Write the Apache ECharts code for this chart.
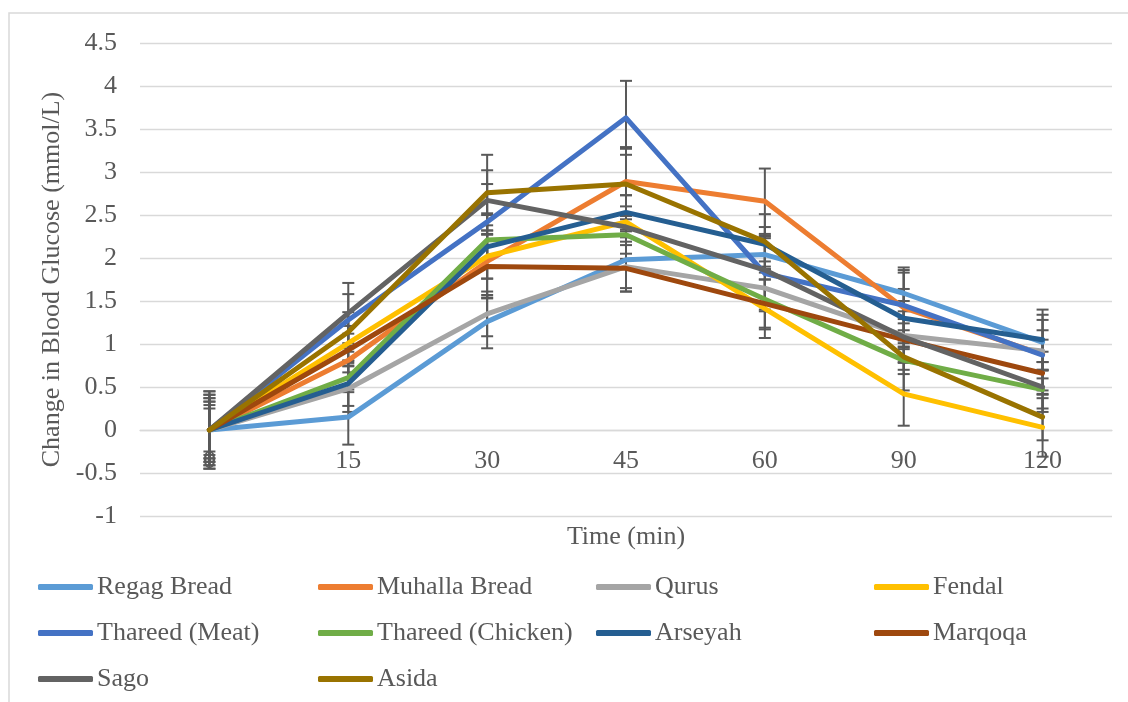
<!DOCTYPE html>
<html>
<head>
<meta charset="utf-8">
<script src="https://cdn.jsdelivr.net/npm/echarts@6/dist/echarts.min.js"></script>
<style>
  html, body { margin: 0; padding: 0; background: #fff; }
  #chart { width: 1128px; height: 702px; }
</style>
</head>
<body>
<div id="chart"></div>
<script>
// ---- data ----
const categories = ['0', '15', '30', '45', '60', '90', '120'];
const yTicks = { min: -1, max: 4.5, step: 0.5 };

const regagBread     = [0, 0.15, 1.26, 1.98, 2.04, 1.59, 1.02];
const muhallaBread   = [0, 0.81, 1.96, 2.89, 2.66, 1.42, 0.88];
const qurus          = [0, 0.48, 1.35, 1.90, 1.65, 1.10, 0.92];
const fendal         = [0, 1.01, 2.02, 2.42, 1.41, 0.42, 0.03];
const thareedMeat    = [0, 1.28, 2.42, 3.63, 1.82, 1.45, 0.87];
const thareedChicken = [0, 0.61, 2.21, 2.27, 1.52, 0.81, 0.47];
const arseyah        = [0, 0.54, 2.13, 2.53, 2.16, 1.30, 1.05];
const marqoqa        = [0, 0.93, 1.90, 1.88, 1.47, 1.05, 0.66];
const sago           = [0, 1.36, 2.67, 2.36, 1.86, 1.08, 0.50];
const asida          = [0, 1.14, 2.76, 2.86, 2.19, 0.85, 0.15];

const errRegag   = [0.33, 0.32, 0.31, 0.33, 0.21, 0.30, 0.32];
const errMuhalla = [0.41, 0.14, 0.42, 0.40, 0.38, 0.41, 0.28];
const errQurus   = [0.29, 0.27, 0.26, 0.29, 0.25, 0.40, 0.13];
const errFendal  = [0.37, 0.20, 0.26, 0.18, 0.34, 0.37, 0.34];
const errMeat    = [0.45, 0.30, 0.44, 0.43, 0.44, 0.41, 0.41];
const errChicken = [0.33, 0.17, 0.31, 0.22, 0.35, 0.16, 0.22];
const errArseyah = [0.41, 0.26, 0.37, 0.20, 0.20, 0.34, 0.35];
const errMarqoqa = [0.25, 0.19, 0.37, 0.27, 0.28, 0.11, 0.25];
const errSago    = [0.37, 0.35, 0.35, 0.37, 0.37, 0.30, 0.29];
const errAsida   = [0.45, 0.23, 0.44, 0.41, 0.32, 0.39, 0.27];

const names = ['Regag Bread', 'Muhalla Bread', 'Qurus', 'Fendal', 'Thareed (Meat)',
               'Thareed (Chicken)', 'Arseyah', 'Marqoqa', 'Sago', 'Asida'];
const values = [regagBread, muhallaBread, qurus, fendal, thareedMeat,
                thareedChicken, arseyah, marqoqa, sago, asida];
const errors = [errRegag, errMuhalla, errQurus, errFendal, errMeat,
                errChicken, errArseyah, errMarqoqa, errSago, errAsida];
const colors = ['#5B9BD5', '#ED7D31', '#A5A5A5', '#FFC000', '#4472C4',
                '#70AD47', '#255E91', '#9E480E', '#636363', '#997300'];

// ---- chart ----
const FONT = "'Liberation Serif', 'Times New Roman', serif";
const TXT = '#595959';
const chart = echarts.init(document.getElementById('chart'), null, { renderer: 'canvas' });

function renderErr(params, api) {
  const x = api.value(0);
  const lo = api.coord([x, api.value(1)]);
  const hi = api.coord([x, api.value(2)]);
  const w = 6;
  const style = { stroke: '#595959', lineWidth: 2 };
  return {
    type: 'group',
    children: [
      { type: 'line', shape: { x1: lo[0], y1: lo[1], x2: hi[0], y2: hi[1] }, style },
      { type: 'line', shape: { x1: lo[0] - w, y1: lo[1], x2: lo[0] + w, y2: lo[1] }, style },
      { type: 'line', shape: { x1: hi[0] - w, y1: hi[1], x2: hi[0] + w, y2: hi[1] }, style }
    ]
  };
}

const series = [];
names.forEach((n, k) => {
  series.push({
    name: 'err-' + n,
    type: 'custom',
    renderItem: renderErr,
    encode: { x: 0, y: [1, 2] },
    data: values[k].map((v, i) => [i, v - errors[k][i], v + errors[k][i]]),
    z: 1,
    silent: true
  });
});
names.forEach((n, k) => {
  series.push({
    name: n,
    type: 'line',
    data: values[k],
    symbol: 'none',
    color: colors[k],
    lineStyle: { width: 5, color: colors[k], cap: 'round', join: 'round' },
    z: 2,
    animation: false
  });
});

const colX = [38, 318, 596, 874];
const rowY = [587, 633, 679];
const legends = names.map((n, k) => ({
  data: [n],
  left: colX[k % 4],
  top: rowY[Math.floor(k / 4)] - 15,
  padding: 0,
  itemWidth: 55,
  itemHeight: 6,
  itemGap: 0,
  icon: 'roundRect',
  selectedMode: false,
  textStyle: { fontFamily: FONT, fontSize: 26, color: TXT, lineHeight: 30, padding: [0, 0, 0, -1] }
}));

const option = {
  animation: false,
  backgroundColor: '#fff',
  grid: { left: 140, right: 16, top: 43, bottom: 186, containLabel: false },
  xAxis: {
    type: 'category',
    data: categories,
    boundaryGap: true,
    offset: -86,
    axisLine: { onZero: false, lineStyle: { color: '#D9D9D9', width: 1.3 } },
    axisTick: { show: false },
    axisLabel: { fontFamily: FONT, fontSize: 26, color: TXT, margin: 18 },
    name: 'Time (min)',
    nameLocation: 'middle',
    nameGap: 94,
    nameTextStyle: { fontFamily: FONT, fontSize: 26, color: TXT }
  },
  yAxis: {
    type: 'value',
    min: yTicks.min,
    max: yTicks.max,
    interval: yTicks.step,
    axisLine: { show: false },
    axisTick: { show: false },
    splitLine: { lineStyle: { color: '#D9D9D9', width: 1.3 } },
    axisLabel: { fontFamily: FONT, fontSize: 26, color: TXT, margin: 23 },
    name: 'Change in Blood Glucose (mmol/L)',
    nameLocation: 'middle',
    nameRotate: 90,
    nameGap: 75,
    nameTextStyle: { fontFamily: FONT, fontSize: 26, color: TXT }
  },
  legend: legends,
  graphic: [{
    type: 'rect',
    shape: { x: 9, y: 13, width: 1300, height: 900 },
    style: { fill: 'none', stroke: '#D9D9D9', lineWidth: 1.5 },
    z: -10,
    silent: true
  }],
  series: series
};
chart.setOption(option);
</script>
</body>
</html>
